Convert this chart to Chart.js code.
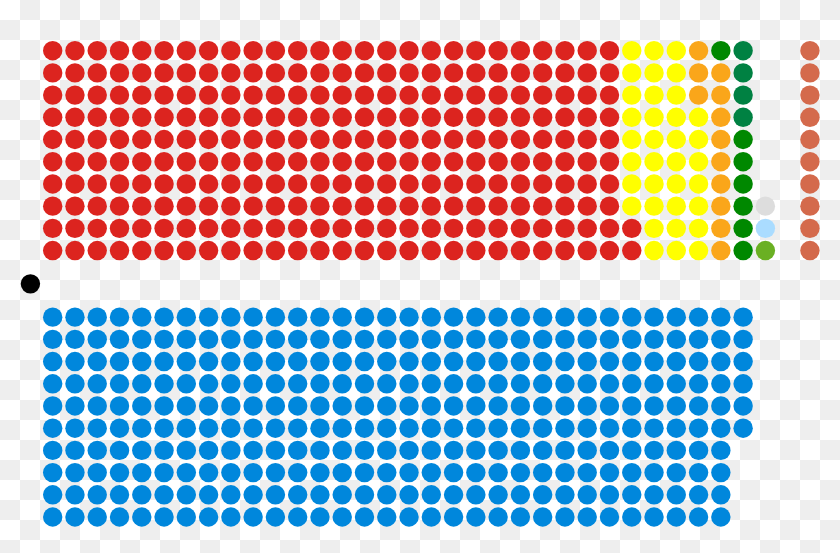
<!DOCTYPE html>
<html>
<head>
<meta charset="utf-8">
<style>
  html, body { margin: 0; padding: 0; background: #fff; }
  #wrap { width: 840px; height: 553px; position: relative; }
</style>
<script src="https://cdn.jsdelivr.net/npm/chart.js@4.4.1/dist/chart.umd.min.js"></script>
</head>
<body>
<div id="wrap"><canvas id="c" width="840" height="553"></canvas></div>
<script>
// ---- Data: seats per party ----
const upperParties = ["Labour", "SNP", "Liberal Democrats", "Sinn Féin", "Plaid Cymru", "Green", "Other", "Independent"];
const upperSeats   = [262, 35, 12, 7, 4, 1, 1, 1];
const sideParties  = ["DUP"];
const sideSeats    = [10];
const lowerParties = ["Conservative"];
const lowerSeats   = [316];
const speakerParty = ["Speaker"];
const speakerSeats = [1];

// ---- Styles ----
const upperColors = ["#DC241F", "#FFFF00", "#FAA61A", "#008800", "#008142", "#6AB023", "#AADCFF", "#DDDDDD"];
const sideColors  = ["#D46A4C"];
const lowerColors = ["#0087DC"];
const speakerColors = ["#000000"];

const ROWS = 10;

// Fill seats column by column; upper bench bottom-to-top, lower bench top-to-bottom
function layout(names, seats, colors, startCol, rowBase, bottomUp) {
  const sets = [];
  let idx = 0;
  names.forEach((n, p) => {
    const pts = [];
    for (let s = 0; s < seats[p]; s++, idx++) {
      const col = startCol + Math.floor(idx / ROWS);
      const r = idx % ROWS;
      const row = bottomUp ? rowBase + (ROWS - 1 - r) : rowBase + r;
      pts.push({ x: col, y: row });
    }
    sets.push({ label: n, data: pts, backgroundColor: colors[p] });
  });
  return sets;
}

const datasets = [
  ...layout(upperParties, upperSeats, upperColors, 1, 1, true),
  ...layout(sideParties, sideSeats, sideColors, 35, 1, true),
  ...layout(lowerParties, lowerSeats, lowerColors, 1, 13, false),
  { label: speakerParty[0], data: speakerSeats.map(() => ({ x: 0, y: 11.5 })), backgroundColor: speakerColors[0] }
].map(d => Object.assign(d, { pointRadius: 9.7, pointHoverRadius: 9.7, borderWidth: 0, pointStyle: 'circle' }));

const checker = {
  id: 'checker',
  beforeDraw(chart) {
    const ctx = chart.ctx;
    ctx.save();
    ctx.fillStyle = '#ffffff';
    ctx.fillRect(0, 0, chart.width, chart.height);
    ctx.fillStyle = '#eeeeee';
    for (let y = 0; y < chart.height; y += 20) {
      for (let x = 0; x < chart.width; x += 20) {
        if (((x / 20) + (y / 20)) % 2 === 1) ctx.fillRect(x, y, 20, 20);
      }
    }
    ctx.restore();
  }
};

new Chart(document.getElementById('c'), {
  type: 'scatter',
  data: { datasets },
  options: {
    responsive: false,
    animation: false,
    events: [],
    layout: { padding: 0, autoPadding: false },
    plugins: { legend: { display: false }, tooltip: { enabled: false } },
    scales: {
      x: { type: 'linear', display: false, min: -1.366, max: 36.35 },
      y: { type: 'linear', display: false, reverse: true, min: -1.283, max: 23.621 }
    }
  },
  plugins: [checker]
});
</script>
</body>
</html>
